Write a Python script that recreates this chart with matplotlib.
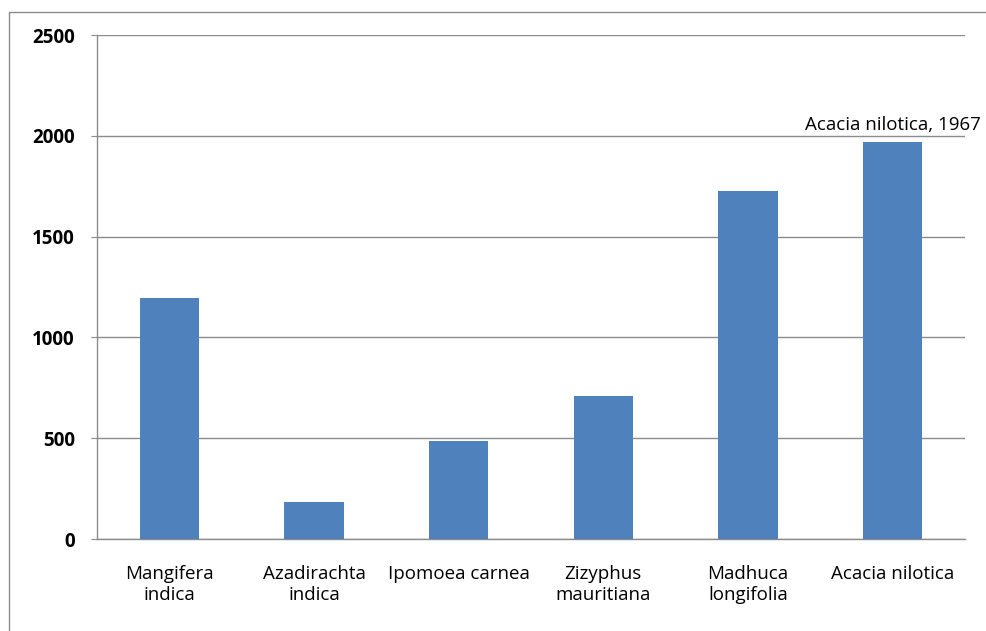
import matplotlib
matplotlib.use("Agg")
import matplotlib.pyplot as plt
from matplotlib.patches import Rectangle

# data
species = ["Mangifera\nindica", "Azadirachta\nindica", "Ipomoea carnea",
           "Zizyphus\nmauritiana", "Madhuca\nlongifolia", "Acacia nilotica"]
counts = [1195, 185, 485, 710, 1725, 1967]
yticks = [0, 500, 1000, 1500, 2000, 2500]

plt.rcParams['font.family'] = ['Open Sans', 'DejaVu Sans']

fig = plt.figure(figsize=(9.86, 6.31), dpi=100)
ax = fig.add_axes([0.0984, 0.1458, 0.8803, 0.7987])

# outer chart frame (clipped at right/bottom like the screenshot)
fig.patches.append(Rectangle((0.009, -0.05), 1.05, 1.031, transform=fig.transFigure,
                             fill=False, edgecolor='#8c8c8c', linewidth=1.0))

x = range(len(species))
ax.bar(x, counts, width=0.41, color='#4F81BD', zorder=3)

ax.set_xlim(-0.5, len(species) - 0.5)
ax.set_ylim(0, 2500)
ax.set_yticks(yticks)
ax.set_xticks(list(x))
ax.set_xticklabels(species, fontsize=13.5, linespacing=1.2)
ax.tick_params(axis='x', length=0, pad=19)
ax.tick_params(axis='y', length=4, color='#8c8c8c', labelsize=13.5, pad=12)
for lab in ax.get_yticklabels():
    lab.set_fontweight('bold')

ax.yaxis.grid(True, color='#8c8c8c', linewidth=1.0, zorder=0)
ax.set_axisbelow(True)
for s in ['top', 'right']:
    ax.spines[s].set_visible(False)
for s in ['left', 'bottom']:
    ax.spines[s].set_color('#8c8c8c')
    ax.spines[s].set_linewidth(1.0)

# label on the tallest bar
i = len(species) - 1
ax.annotate("Acacia nilotica, %d" % counts[i], (i, counts[i]), xytext=(0, 6),
            textcoords='offset points', ha='center', va='bottom', fontsize=13.5)

fig.savefig("out.png", dpi=100)
